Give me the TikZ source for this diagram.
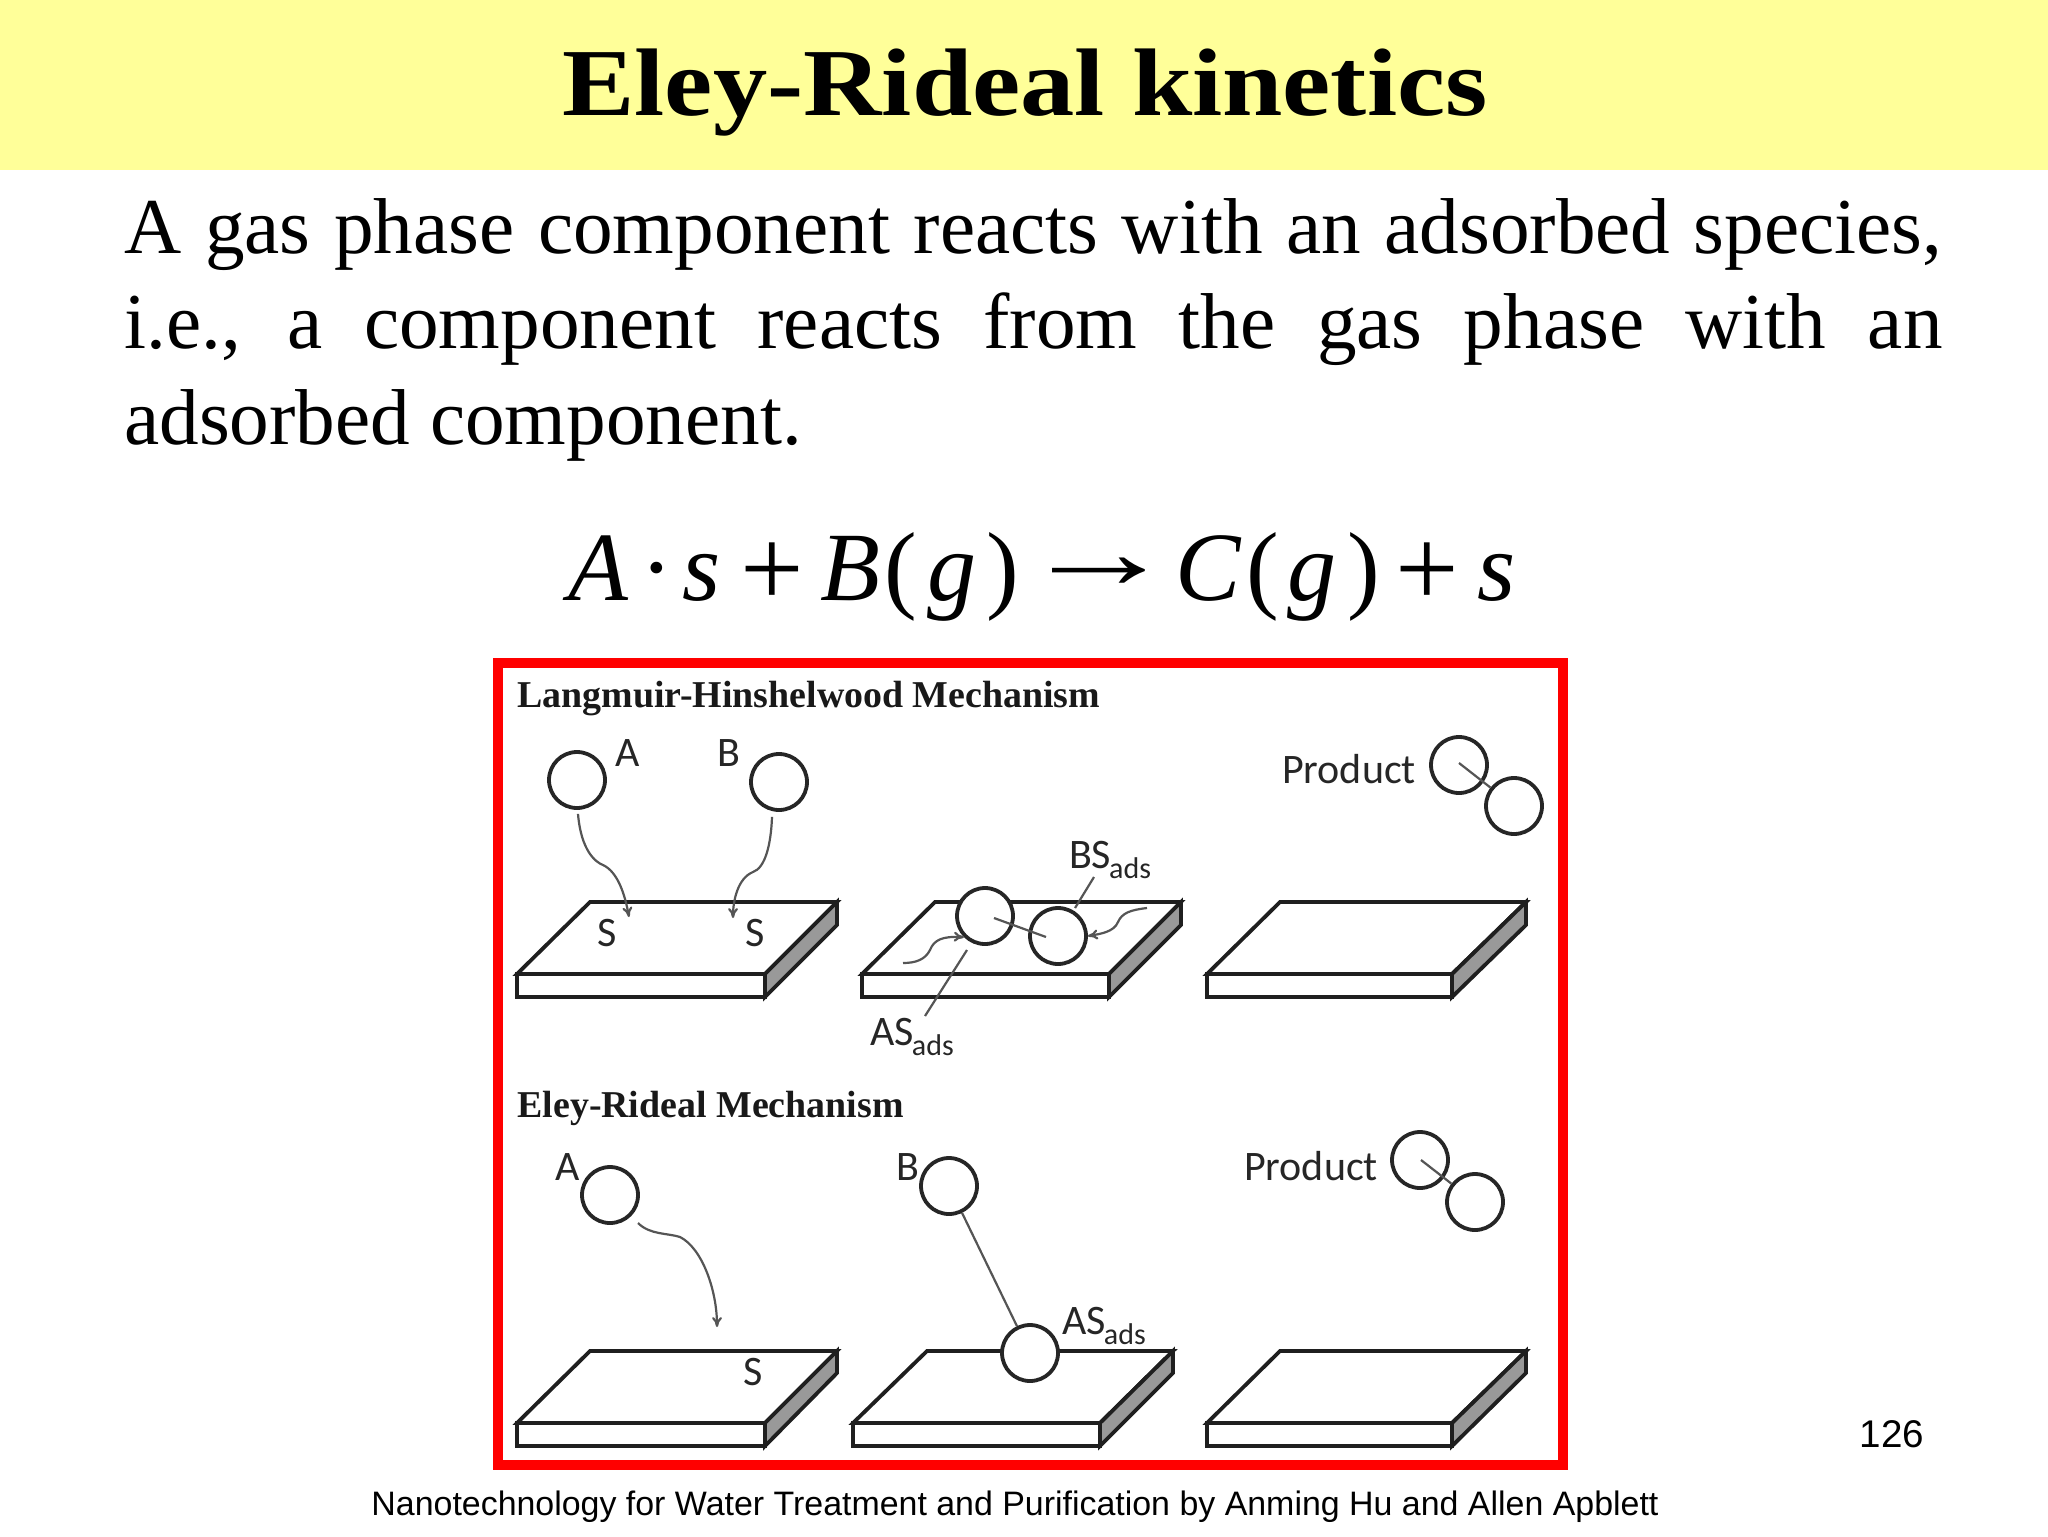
\documentclass[tikz,border=0pt]{standalone}
\usepackage{fontspec}
\usepackage{graphicx}
\usetikzlibrary{arrows.meta}
\setmainfont{Liberation Serif}
\newfontfamily\diagfont{Carlito}
\newfontfamily\arialfont{Liberation Sans}
\definecolor{hdr}{HTML}{FFFF99}
\definecolor{sidegray}{HTML}{999999}
\definecolor{lead}{HTML}{555555}
\newcommand{\slab}[7]{%
  \draw[slabline,fill=white] (#1,#6) -- (#3,#5) -- (#4,#5) -- (#2,#6) -- cycle;
  \draw[slabline,fill=white] (#1,#6) rectangle (#2,#6+23);
  \draw[slabline,fill=sidegray] (#2,#6) -- (#4,#5) -- (#4,#7) -- (#2,#6+23) -- cycle;
}
\newcommand{\ads}[1]{#1\kern-1pt\raisebox{-0.25em}{\fontsize{15}{15}\selectfont ads}}
\newcommand{\bigplus}{\raisebox{-3pt}{\scalebox{1.15}{+}}}
\tikzset{
  x=0.5pt,y=-0.5pt,
  slabline/.style={line width=1.9pt,line join=miter,draw=black!88},
  ball/.style={circle,draw=black!85,line width=1.9pt,fill=white,inner sep=0pt,minimum size=#1},
  ball/.default=28pt,
  lbl/.style={inner sep=0pt,font=\diagfont\fontsize{21}{21}\selectfont,text=black!85},
  mech/.style={anchor=base west,inner sep=0pt,font=\bfseries\fontsize{18.95}{19}\selectfont,text=black!90},
  flow/.style={draw=lead,line width=1.1pt,-{To[length=5pt,width=5pt]}},
  tie/.style={draw=lead,line width=1.1pt},
}
\begin{document}
\begin{tikzpicture}
\useasboundingbox (0,0) rectangle (2048,1536);
\fill[hdr] (0,0) rectangle (2048,170);
\node[anchor=base,inner sep=0pt,font=\bfseries\fontsize{48}{48}\selectfont,xscale=1.13] (title) at (1025,115) {Eley-Rideal kinetics};
\node[anchor=north west,inner sep=0pt,text width=909pt,align=justify,font=\fontsize{39.6}{47.7}\selectfont] (body) at (124,198)
 {A gas phase component reacts with an adsorbed species,\linebreak
  i.e., a component reacts from the gas phase with an\linebreak
  adsorbed component.};
\node[anchor=base,inner sep=0pt,font=\fontsize{49}{49}\selectfont] (eq) at (1042,600)
 {\textit{A}\kern6.3pt·\kern4.3pt\textit{s}\kern9.9pt\bigplus\kern8.3pt\textit{B}\kern2.3pt(\kern5.3pt\textit{g}\kern5pt)\kern0.6pt\raisebox{6pt}{\scalebox{1.6}[1.1]{→}}\kern-1pt\textit{C}\kern2.3pt(\kern4pt\textit{g}\kern5.5pt)\kern7.7pt\bigplus\kern9.6pt\textit{s}};
\draw[red,line width=4.8pt] (498,663) rectangle (1563,1465);
\node[mech] (t1) at (517,707) {Langmuir-Hinshelwood Mechanism};
\node[mech] (t2) at (517,1117) {Eley-Rideal Mechanism};
% slabs
\slab{517}{765}{590}{837}{902}{974}{925}
\slab{862}{1109}{935}{1181}{902}{974}{925}
\slab{1207}{1452}{1280}{1526}{902}{974}{925}
\slab{517}{765}{590}{837}{1351}{1423}{1373}
\slab{853}{1100}{927}{1173}{1351}{1423}{1373}
\slab{1207}{1452}{1280}{1526}{1351}{1423}{1373}
% top row
\node[ball] (a1) at (577,780) {};
\node[ball] (b1) at (779,782) {};
\node[lbl] (la1) at (628,753) {A};
\node[lbl] (lb1) at (729,753) {B};
\node[lbl] (s1) at (607,933) {S};
\node[lbl] (s2) at (755,933) {S};
\coordinate (e1) at (629,917);
\coordinate (e2) at (733,918);
\draw[flow] (a1.south) ++(1,4) .. controls (581,850) and (595,862) .. (603,865) .. controls (618,872) and (625,895) .. (e1);
\draw[flow] (b1.south) ++(-7,5) .. controls (771,845) and (765,868) .. (753,872) .. controls (738,878) and (733,900) .. (e2);
% middle
\node[ball] (a2) at (985,916) {};
\node[ball] (b2) at (1058,936) {};
\coordinate (ia) at (994,918);
\coordinate (ib) at (1046,937);
\draw[tie] (ia) -- (ib);
\node[lbl] (bs) at (1110,860) {\ads{BS}};
\node[lbl] (as) at (912,1037) {\ads{AS}};
\coordinate (q1) at (1094,877);
\coordinate (q2) at (1075,908);
\coordinate (r1) at (967,950);
\coordinate (r2) at (925,1016);
\draw[tie] (q1) -- (q2);
\draw[tie] (r1) -- (r2);
\coordinate (f1) at (903,963);
\coordinate (f2) at (1147,908);
\draw[flow] (f1) .. controls (915,963) and (925,960) .. (930,950) .. controls (934,940) and (942,936) .. (a2.south west);
\draw[flow] (f2) .. controls (1130,910) and (1122,913) .. (1118,922) .. controls (1114,932) and (1100,934) .. (b2.east);
% product top
\node[lbl] (p1) at (1349,769) {Product};
\node[ball] (c1) at (1459,765) {};
\node[ball] (c2) at (1514,806) {};
\coordinate (ci) at (1459,763);
\draw[tie] (ci) -- (c2);
% bottom row
\node[ball] (a3) at (610,1195) {};
\node[ball] (b3) at (949,1186) {};
\node[lbl] (la3) at (568,1167) {A};
\node[lbl] (lb3) at (908,1167) {B};
\node[lbl] (s3) at (753,1372) {S};
\coordinate (e3) at (717,1327);
\draw[flow] (638,1223) .. controls (650,1235) and (668,1233) .. (680,1237) .. controls (702,1248) and (717,1290) .. (e3);
\node[ball] (d3) at (1030,1353) {};
\draw[tie] (b3) -- (d3);
\node[lbl] (as3) at (1104,1326) {\ads{AS}};
\node[lbl] (p2) at (1311,1166) {Product};
\node[ball] (c3) at (1420,1160) {};
\node[ball] (c4) at (1475,1202) {};
\coordinate (ci2) at (1421,1160);
\draw[tie] (ci2) -- (c4);
% footer
\node[anchor=center,inner sep=0pt,font=\arialfont\fontsize{19.3}{20}\selectfont] (pg) at (1892,1434) {126};
\node[anchor=base,inner sep=0pt,font=\arialfont\fontsize{16.96}{18}\selectfont] (ft) at (1015,1515) {Nanotechnology for Water Treatment and Purification by Anming Hu and Allen Apblett};
\end{tikzpicture}
\end{document}
